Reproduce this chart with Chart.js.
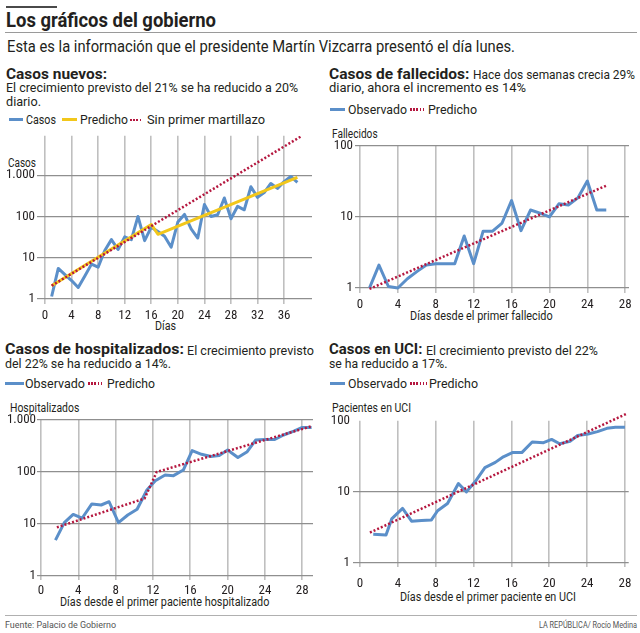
<!DOCTYPE html>
<html lang="es">
<head>
<meta charset="utf-8">
<title>Los gráficos del gobierno</title>
<script src="https://cdn.jsdelivr.net/npm/chart.js@4.4.1/dist/chart.umd.min.js"></script>
<style>
  html, body { margin: 0; padding: 0; background: #fff; }
  #page { position: relative; width: 640px; height: 633px; overflow: hidden; font-family: Roboto, "Noto Sans", sans-serif; color: #231f20; }
  #page canvas { position: absolute; }
  .t { position: absolute; white-space: nowrap; transform-origin: 0 0; line-height: 1.2; }
  .b { font-weight: 700; }
  .rule { position: absolute; }
  .sw { position: absolute; height: 3px; }
  .blue { background: #5b8fc9; }
  .yellow { background: #f2c71b; }
  .red { height: 2.5px; background: repeating-linear-gradient(90deg, #b5173f 0 1.6px, rgba(255,255,255,0) 1.6px 3.2px); }
</style>
</head>
<body>
<div id="page">
  <div class="rule" style="left:6px;top:5.7px;width:51px;height:2.7px;background:#4a4a4a"></div>
  <div class="t b" style="left:6px;top:8.2px;font-size:20px" data-w="210">Los gráficos del gobierno</div>
  <div class="rule" style="left:5px;top:31.8px;width:632px;height:1.5px;background:#9a9a9a"></div>
  <div class="t" style="left:7px;top:36.3px;font-size:17px" data-w="508">Esta es la información que el presidente Martín Vizcarra presentó el día lunes.</div>

  <!-- casos nuevos -->
  <div class="t b" style="left:6px;top:64.7px;font-size:15.5px" data-w="101">Casos nuevos:</div>
  <div class="t" style="left:6px;top:80.4px;font-size:13px" data-w="292">El crecimiento previsto del 21% se ha reducido a 20%</div>
  <div class="t" style="left:6px;top:93.8px;font-size:13px" data-w="35">diario.</div>
  <div class="sw blue" style="left:9px;top:118.2px;width:14px"></div>
  <div class="t" style="left:26px;top:112px;font-size:13px" data-w="30">Casos</div>
  <div class="sw yellow" style="left:62px;top:118.2px;width:15px"></div>
  <div class="t" style="left:80px;top:112px;font-size:13px" data-w="48">Predicho</div>
  <div class="sw red" style="left:130px;top:118.5px;width:12px"></div>
  <div class="t" style="left:147px;top:112px;font-size:13px" data-w="118">Sin primer martillazo</div>
  <div class="t" style="left:8.3px;top:155.1px;font-size:12.5px" data-w="28">Casos</div>
  <div class="t" style="left:155px;top:318.3px;font-size:12.5px" data-w="21">Días</div>

  <!-- fallecidos -->
  <div class="t b" style="left:328.6px;top:64.7px;font-size:15.5px" data-w="140.4">Casos de fallecidos:</div>
  <div class="t" style="left:472.7px;top:67.05px;font-size:13px" data-w="162">Hace dos semanas crecia 29%</div>
  <div class="t" style="left:328.6px;top:80.4px;font-size:13px" data-w="197">diario, ahora el incremento es 14%</div>
  <div class="sw blue" style="left:330px;top:108px;width:15px"></div>
  <div class="t" style="left:348px;top:101.85px;font-size:13px" data-w="59">Observado</div>
  <div class="sw red" style="left:410px;top:108.25px;width:14px"></div>
  <div class="t" style="left:428px;top:101.85px;font-size:13px" data-w="49">Predicho</div>
  <div class="t" style="left:331.7px;top:125.6px;font-size:12.5px" data-w="45.6">Fallecidos</div>
  <div class="t" style="left:410px;top:307.6px;font-size:12.5px" data-w="142.7">Días desde el primer fallecido</div>

  <!-- hospitalizados -->
  <div class="t b" style="left:5px;top:340.4px;font-size:15.5px" data-w="179">Casos de hospitalizados:</div>
  <div class="t" style="left:187px;top:342.75px;font-size:13px" data-w="127">El crecimiento previsto</div>
  <div class="t" style="left:5px;top:355.75px;font-size:13px" data-w="166">del 22% se ha reducido a 14%.</div>
  <div class="sw blue" style="left:5px;top:382px;width:19px"></div>
  <div class="t" style="left:25px;top:375.85px;font-size:13px" data-w="60">Observado</div>
  <div class="sw red" style="left:88px;top:382.25px;width:16px"></div>
  <div class="t" style="left:107px;top:375.85px;font-size:13px" data-w="48">Predicho</div>
  <div class="t" style="left:10px;top:399.6px;font-size:12.5px" data-w="69.3">Hospitalizados</div>
  <div class="t" style="left:60px;top:594.3px;font-size:12.5px" data-w="209.3">Días desde el primer paciente hospitalizado</div>

  <!-- UCI -->
  <div class="t b" style="left:328.6px;top:340.4px;font-size:15.5px" data-w="93.4">Casos en UCI:</div>
  <div class="t" style="left:426px;top:342.75px;font-size:13px" data-w="172">El crecimiento previsto del 22%</div>
  <div class="t" style="left:328.6px;top:355.75px;font-size:13px" data-w="118.4">se ha reducido a 17%.</div>
  <div class="sw blue" style="left:330px;top:382px;width:15px"></div>
  <div class="t" style="left:348px;top:375.85px;font-size:13px" data-w="59">Observado</div>
  <div class="sw red" style="left:410px;top:382.25px;width:17px"></div>
  <div class="t" style="left:429px;top:375.85px;font-size:13px" data-w="49">Predicho</div>
  <div class="t" style="left:331.7px;top:400.1px;font-size:12.5px" data-w="79">Pacientes en UCI</div>
  <div class="t" style="left:400px;top:589.3px;font-size:12.5px" data-w="176">Días desde el primer paciente en UCI</div>

  <canvas id="c1" width="320" height="207" style="left:0;top:126px"></canvas>
  <canvas id="c2" width="320" height="187" style="left:320px;top:136px"></canvas>
  <canvas id="c3" width="320" height="200" style="left:0;top:410px"></canvas>
  <canvas id="c4" width="320" height="195" style="left:320px;top:410px"></canvas>

  <div class="rule" style="left:5px;top:615px;width:632px;height:1px;background:#b0b0b0"></div>
  <div class="t" style="left:5px;top:618.85px;font-size:9.5px;color:#555" data-w="111">Fuente: Palacio de Gobierno</div>
  <div class="t" style="left:539px;top:618.85px;font-size:9.5px;color:#555" data-w="98">LA REPÚBLICA/ Rocío Medina</div>
</div>

<script>
// casos nuevos (por día)
const casosDias = [1, 2, 3, 4, 5, 6, 7, 8, 9, 10, 11, 12, 13, 14, 15, 16, 17, 18, 19, 20,
  21, 22, 23, 24, 25, 26, 27, 28, 29, 30, 31, 32, 33, 34, 35, 36, 37, 38];
const casosNuevos = [1.15, 5.5, 3.9, 2.8, 1.9, 3.6, 7, 5.9, 15, 27.5, 15.8, 32, 27.5, 100, 26, 55, 43, 33, 18, 73,
  112, 50, 30, 194, 100, 110, 280, 88, 176, 145, 525, 290, 380, 630, 480, 700, 930, 670];
const casosPredDias = [1, 16, 17, 38];
const casosPred = [2.1, 64, 37, 880];
const sinMartilloDias = [1, 38.7];
const sinMartillo = [2.1, 9000];

// fallecidos
const fallDias = [1, 2, 3, 4, 5, 6, 7, 8, 9, 10, 11, 12, 13, 14, 15, 16, 17, 18, 19, 20, 21, 22, 23, 24, 25, 26];
const fallObs = [1, 2.1, 1.05, 1, 1.35, 1.7, 2.1, 2.2, 2.2, 2.2, 5.4, 2.2, 6.3, 6.3, 8.2, 17, 6.4, 12.5, 11.3, 10,
  15.3, 14.7, 18.5, 32, 12.5, 12.5];
const fallPredDias = [1, 26.1];
const fallPred = [0.97, 27.9];

// hospitalizados
const hospDias = [1.55, 2.5, 3.45, 4.4, 5.45, 6.45, 7.3, 8.3, 9.3, 10.3, 11.35, 12.25, 13.3, 14.2, 15.25, 16.2,
  17.2, 18.2, 19.1, 20, 21.1, 22.1, 23, 24, 25.05, 26, 27.1, 28, 29];
const hospObs = [4.9, 10.6, 15.3, 12.9, 24.3, 23.2, 26.8, 10.6, 14.9, 19.2, 45, 68, 87.5, 85, 109, 258,
  219, 198, 207, 265, 190, 246, 412, 422, 422, 515, 610, 720, 720];
const hospPredDias = [1.7, 11.1, 12.4, 28.9];
const hospPred = [8.6, 31, 100, 750];

// UCI
const uciDias = [1.4, 2.75, 3.35, 4.5, 5.45, 6.5, 7.55, 8.2, 9.25, 10.4, 11.25, 12.2, 13.2, 14.3, 15.15, 16.1,
  17.1, 18.2, 19.4, 20.25, 21.1, 22.2, 23, 24.1, 25.1, 26.1, 27, 28];
const uciObs = [2.54, 2.48, 4.17, 5.85, 3.87, 3.96, 4.04, 5.43, 6.85, 13.1, 10, 14.1, 22, 26, 31.2, 35.7,
  35.7, 50.3, 49.3, 54.7, 47.5, 51.3, 62, 65.3, 70.5, 78.3, 80.9, 80.9];
const uciPredDias = [1.05, 28.2];
const uciPred = [2.68, 126];

// ticks
const diasTicks36 = [0, 4, 8, 12, 16, 20, 24, 28, 32, 36];
const diasTicks28 = [0, 4, 8, 12, 16, 20, 24, 28];
const logTicks1000 = [1, 10, 100, 1000];
const logTicks100 = [1, 10, 100];

const AZUL = '#5b8fc9';
const AMARILLO = '#f2c71b';
const ROJO = '#b5173f';

Chart.defaults.font.family = '"Liberation Sans Narrow", "Roboto Condensed", Roboto, sans-serif';
Chart.defaults.color = '#231f20';

function serie(xs, ys, color, width, dash, order, clip) {
  return {
    data: xs.map((x, i) => ({ x, y: ys[i] })),
    borderColor: color,
    borderWidth: width,
    borderDash: dash,
    borderJoinStyle: 'round',
    pointRadius: 0,
    tension: 0,
    fill: false,
    order,
    clip
  };
}

function logChart(id, c) {
  return new Chart(document.getElementById(id), {
    type: 'line',
    data: { datasets: c.datasets },
    options: {
      responsive: false,
      animation: false,
      events: [],
      layout: { padding: { top: c.padTop, right: c.padRight, bottom: 0, left: 0 } },
      plugins: { legend: { display: false }, tooltip: { enabled: false } },
      scales: {
        x: {
          type: 'linear',
          min: 0,
          max: c.xMax,
          afterBuildTicks: s => { s.ticks = c.xTicks.map(v => ({ value: v })); },
          afterFit: s => { s.height = c.xHeight; },
          border: { display: false },
          grid: { color: '#bfbfbf', lineWidth: 1.6, tickLength: c.xTickLen },
          ticks: { padding: c.xPad, maxRotation: 0, autoSkip: false, font: { size: 13 } }
        },
        y: {
          type: 'logarithmic',
          min: c.yMin,
          max: c.yMax,
          afterBuildTicks: s => { s.ticks = c.yTicks.map(v => ({ value: v })); },
          afterFit: s => { s.width = c.yWidth; },
          border: { display: false },
          grid: {
            color: ctx => (c.hideTop && ctx.tick && ctx.tick.value === c.yMax) ? 'rgba(0,0,0,0)' : '#8f8f8f',
            lineWidth: 1.2,
            tickLength: c.yTickLen
          },
          ticks: {
            padding: c.yPad,
            font: { size: 13 },
            callback: v => (v >= 1000 ? '1.000' : String(v))
          }
        }
      }
    }
  });
}

logChart('c1', {
  datasets: [
    serie(casosDias, casosNuevos, AZUL, 3, [], 2),
    serie(casosPredDias, casosPred, AMARILLO, 3, [], 1),
    serie(sinMartilloDias, sinMartillo, ROJO, 2.5, [2, 2], 0)
  ],
  xMax: 40.2, xTicks: diasTicks36, yMin: 1, yMax: 9000, yTicks: logTicks1000,
  padTop: 8, padRight: 8, yWidth: 45, xHeight: 34, xTickLen: 5, xPad: 4, yTickLen: 8, yPad: 2
});

logChart('c2', {
  datasets: [
    serie(fallDias, fallObs, AZUL, 3, [], 1, false),
    serie(fallPredDias, fallPred, ROJO, 2.5, [2, 2], 0, false)
  ],
  xMax: 28.4, xTicks: diasTicks28, yMin: 1, yMax: 100, yTicks: logTicks100,
  padTop: 8, padRight: 11, yWidth: 40, xHeight: 35, xTickLen: 5, xPad: 3.5, yTickLen: 5, yPad: 2
});

logChart('c3', {
  datasets: [
    serie(hospDias, hospObs, AZUL, 3, [], 1),
    serie(hospPredDias, hospPred, ROJO, 2.5, [2, 2], 0)
  ],
  xMax: 29.15, xTicks: diasTicks28, yMin: 1, yMax: 1000, yTicks: logTicks1000,
  padTop: 10, padRight: 7, yWidth: 41, xHeight: 34, xTickLen: 4, xPad: 2.5, yTickLen: 4, yPad: 1
});

logChart('c4', {
  datasets: [
    serie(uciDias, uciObs, AZUL, 3, [], 1, false),
    serie(uciPredDias, uciPred, ROJO, 2.5, [2, 2], 0, false)
  ],
  xMax: 28.4, xTicks: diasTicks28, yMin: 1, yMax: 100, yTicks: logTicks100, hideTop: true,
  padTop: 8, padRight: 11, yWidth: 40, xHeight: 42, xTickLen: 4, xPad: 8.5, yTickLen: 7, yPad: 3
});

// squeeze each text to the width it has in the printed graphic
function ajustarTextos() {
  document.querySelectorAll('[data-w]').forEach(el => {
    el.style.transform = 'none';
    const natural = el.getBoundingClientRect().width;
    if (natural > 0) el.style.transform = 'scaleX(' + (+el.dataset.w / natural).toFixed(4) + ')';
  });
}
ajustarTextos();
if (document.fonts && document.fonts.ready) document.fonts.ready.then(ajustarTextos);
</script>
</body>
</html>
